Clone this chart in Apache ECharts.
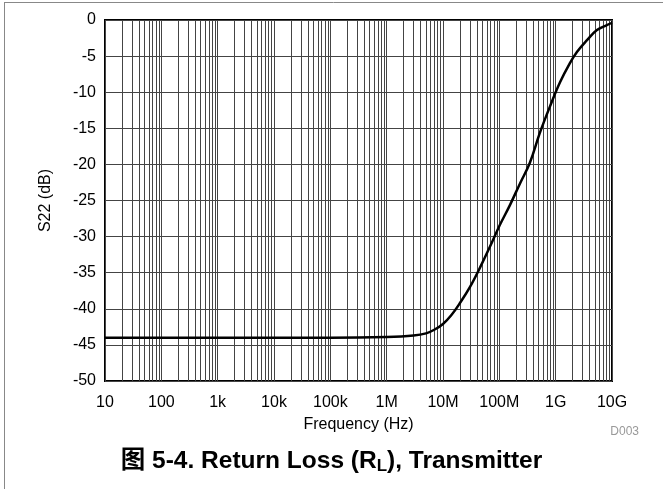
<!DOCTYPE html>
<html>
<head>
<meta charset="utf-8">
<script src="https://cdn.jsdelivr.net/npm/echarts@6/dist/echarts.min.js"></script>
<style>
html,body{margin:0;padding:0;background:#fff;}
#chart{width:663px;height:489px;}
</style>
</head>
<body>
<div id="chart"></div>
<script>
// Data
const freqHz = [10, 100, 1e3, 1e4, 1e5, 1e6, 3e6, 5e6, 7e6, 1e7, 1.4e7, 2e7, 3e7, 4.6e7, 6.8e7, 1.02e8, 1.55e8, 2.34e8, 3.47e8, 5.2e8, 7.9e8, 1.2e9, 1.78e9, 2.4e9, 3.6e9, 5.4e9, 8.1e9, 1e10];
const s22dB  = [-44, -44, -44, -44, -44, -43.9, -43.7, -43.4, -42.9, -42.1, -40.9, -39.2, -37.0, -34.2, -31.4, -28.4, -25.6, -22.6, -19.8, -15.7, -12.0, -8.6, -6.0, -4.4, -2.8, -1.4, -0.7, -0.4];
const xTickLabels = {1: '10', 2: '100', 3: '1k', 4: '10k', 5: '100k', 6: '1M', 7: '10M', 8: '100M', 9: '1G', 10: '10G'};
const minorMultipliers = [2, 3, 4, 5, 6, 7, 8, 9];
const decades = [10, 100, 1e3, 1e4, 1e5, 1e6, 1e7, 1e8, 1e9];

const minorLines = [];
decades.forEach(d => minorMultipliers.forEach(m => minorLines.push({xAxis: d * m})));

const chart = echarts.init(document.getElementById('chart'), null, {renderer: 'canvas'});
const font = 'Liberation Sans, Arial, Helvetica, sans-serif';
const gridColor = '#444';

chart.setOption({
  animation: false,
  backgroundColor: '#fff',
  grid: {left: 105, right: 51, top: 20, bottom: 108, show: true, borderColor: '#000', borderWidth: 2, backgroundColor: 'transparent'},
  xAxis: {
    type: 'log', logBase: 10, min: 10, max: 1e10,
    axisLine: {show: false},
    axisTick: {show: false},
    splitLine: {show: true, lineStyle: {color: gridColor, width: 1}},
    axisLabel: {
      color: '#000', fontFamily: font, fontSize: 16, margin: 14,
      formatter: v => xTickLabels[Math.round(Math.log10(v))] || ''
    },
    name: 'Frequency (Hz)', nameLocation: 'middle', nameGap: 36,
    nameTextStyle: {color: '#000', fontFamily: font, fontSize: 16}
  },
  yAxis: {
    type: 'value', min: -50, max: 0, interval: 5,
    axisLine: {show: false},
    axisTick: {show: false},
    splitLine: {show: true, lineStyle: {color: gridColor, width: 1}},
    axisLabel: {color: '#000', fontFamily: font, fontSize: 16, margin: 9},
    name: 'S22 (dB)', nameLocation: 'middle', nameGap: 51, nameRotate: 90,
    nameTextStyle: {color: '#000', fontFamily: font, fontSize: 16}
  },
  series: [{
    type: 'line',
    data: freqHz.map((f, i) => [f, s22dB[i]]),
    smooth: 0.4,
    showSymbol: false,
    lineStyle: {color: '#000', width: 2.5},
    z: 5,
    markLine: {
      silent: true,
      symbol: ['none', 'none'],
      label: {show: false},
      lineStyle: {color: gridColor, width: 1, type: 'solid'},
      data: minorLines,
      z: 1
    }
  }],
  graphic: [
    {type: 'line', shape: {x1: 4, y1: 2.5, x2: 663, y2: 2.5}, style: {stroke: '#888', lineWidth: 1}},
    {type: 'line', shape: {x1: 4.5, y1: 2, x2: 4.5, y2: 489}, style: {stroke: '#888', lineWidth: 1}},
    {type: 'text', right: 24, top: 426, style: {text: 'D003', fill: '#999', font: '12px ' + font}},
    {type: 'text', left: 'center', top: 449, style: {
      text: '{b|图 5-4. Return Loss (R}{s|L}{b|), Transmitter}',
      rich: {
        b: {fontFamily: 'Liberation Sans, Noto Sans CJK SC, sans-serif', fontWeight: 'bold', fontSize: 24.5, fill: '#000'},
        s: {fontFamily: 'Liberation Sans, sans-serif', fontWeight: 'bold', fontSize: 17, fill: '#000', padding: [10, 0, 0, 0]}
      }
    }}
  ]
});
</script>
</body>
</html>
